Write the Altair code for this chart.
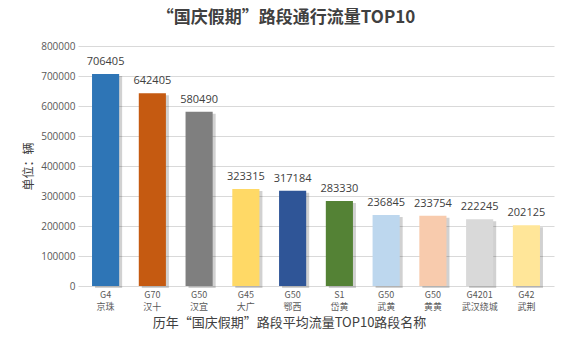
import altair as alt
import pandas as pd

codes = ["G4", "G70", "G50", "G45", "G50", "S1", "G50", "G50", "G4201", "G42"]
names = ["京珠", "汉十", "汉宜", "大广", "鄂西", "岱黄", "武黄", "黄黄", "武汉绕城", "武荆"]
values = [706405, 642405, 580490, 323315, 317184, 283330, 236845, 233754, 222245, 202125]
colors = ["#2E75B6", "#C55A11", "#7F7F7F", "#FFD966", "#2F5597",
          "#548235", "#BDD7EE", "#F8CBAD", "#D9D9D9", "#FFE699"]

labels = [f"{c}\n{n}" for c, n in zip(codes, names)]
df = pd.DataFrame({"label": labels, "value": values, "color": colors})

FONT = "Noto Sans CJK SC"

x = alt.X("label:N", sort=None,
          scale=alt.Scale(paddingInner=0.42, paddingOuter=0.3),
          axis=alt.Axis(title="历年“国庆假期”路段平均流量TOP10路段名称",
                        labelAngle=0, labelExpr="split(datum.label, '\\n')",
                        labelFontSize=9, labelColor="#595959", labelFont=FONT,
                        labelLineHeight=12, labelPadding=4,
                        ticks=False, domain=False,
                        titleFontSize=13, titleFontWeight="normal", titleColor="#404040",
                        titleFont=FONT, titlePadding=5, titleX=211))
y = alt.Y("value:Q", scale=alt.Scale(domain=[0, 800000]),
          axis=alt.Axis(title="单位：辆", values=list(range(0, 800001, 100000)),
                        format="d", labelFontSize=10, labelColor="#595959",
                        labelFont="Open Sans", domain=False, ticks=False, labelPadding=3,
                        gridColor="#D9D9D9", titleFont=FONT, titleFontSize=12,
                        titleFontWeight="normal", titleColor="#404040",
                        titleX=-50, titleY=120, titleAngle=-90, titleBaseline="middle"))

base = alt.Chart(df)
shadow = base.mark_bar(color="#000000", opacity=0.18, xOffset=3, yOffset=2).encode(x=x, y=y)
bars = base.mark_bar().encode(x=x, y=y, color=alt.Color("color:N", scale=None))
text = base.mark_text(dy=-12, fontSize=11, color="#404040", font="Open Sans").encode(
    x=x, y=y, text=alt.Text("value:Q", format="d"))

chart = (shadow + bars + text).properties(
    width=476, height=240,
    title=alt.TitleParams("“国庆假期”路段通行流量TOP10", fontSize=17, fontWeight="bold",
                          font=FONT, color="#404040", anchor="middle", offset=14, dx=-30),
    autosize=alt.AutoSizeParams(type="none"),
    padding={"left": 78, "top": 46, "right": 17, "bottom": 58},
    background="white",
).configure_view(stroke=None)

chart.save("out.html", embed_options={"renderer": "svg", "actions": False})
